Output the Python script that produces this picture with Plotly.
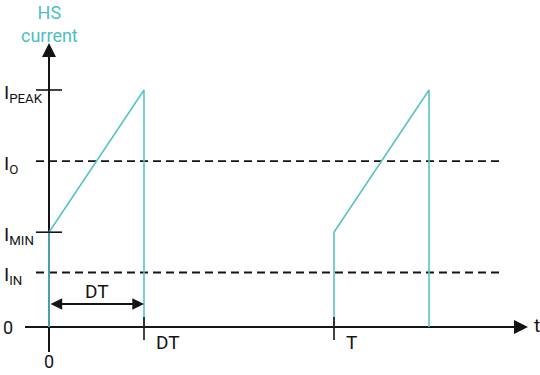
import plotly.graph_objects as go

# ---- data (normalised units: period T = 1, I_PEAK = 1) ----
T = 1.0
D = 1.0 / 3.0
period_starts = [0.0, 1.0]
I_PEAK = 1.0
I_O = 0.70
I_MIN = 0.40
I_IN = 0.23

level_values = [I_PEAK, I_O, I_MIN, I_IN]
level_labels = ["I<sub>PEAK</sub>", "I<sub>O</sub>", "I<sub>MIN</sub>", "I<sub>IN</sub>"]
dashed_levels = [I_O, I_IN]
ticked_levels = [I_PEAK, I_MIN]
time_ticks = [D * T, T]
time_tick_labels = ["DT", "T"]
axis_title = "HS<br>current"

CYAN = "#58c3ca"
TXT_CYAN = "#4dbec7"
BLACK = "#141414"
FONT = "Roboto"

# pixel scale helpers (plot area = whole figure)
W, H = 540, 375
x_px0, x_scale = 49, 285.0   # t=0 at px 49, 285 px per period
y_px0, y_scale = 327, 237.0  # i=0 at px 327, 237 px per I_PEAK
def dx(px):
    return (px - x_px0) / x_scale
def dy(py):
    return (y_px0 - py) / y_scale

# waveform
xs, ys = [], []
for s in period_starts:
    xs += [s, s, s + D * T, s + D * T, None]
    ys += [0, I_MIN, I_PEAK, 0, None]

fig = go.Figure()
fig.add_trace(go.Scatter(x=xs, y=ys, mode="lines",
                         line=dict(color=CYAN, width=1.6),
                         hoverinfo="skip", showlegend=False))

shapes = []
# axes (below the waveform)
shapes.append(dict(type="line", x0=0, x1=0, y0=dy(352), y1=dy(54),
                   line=dict(color=BLACK, width=2), layer="below"))
shapes.append(dict(type="line", x0=dx(25), x1=dx(516), y0=0, y1=0,
                   line=dict(color=BLACK, width=2), layer="below"))
# dashed reference levels
for v in dashed_levels:
    shapes.append(dict(type="line", x0=dx(36), x1=dx(503), y0=v, y1=v,
                       line=dict(color=BLACK, width=1.8, dash="8px,5px"), layer="below"))
# ticks on current axis
for v in ticked_levels:
    shapes.append(dict(type="line", x0=dx(36), x1=dx(62), y0=v, y1=v,
                       line=dict(color=BLACK, width=1.6), layer="above"))
# ticks on time axis
for t in time_ticks:
    shapes.append(dict(type="line", x0=t, x1=t, y0=dy(317), y1=dy(340),
                       line=dict(color=BLACK, width=1.6), layer="above"))

annotations = []
# arrow heads of axes
annotations.append(dict(x=0, y=dy(43), ax=0, ay=dy(70), xref="x", yref="y",
                        axref="x", ayref="y", text="", showarrow=True,
                        arrowhead=2, arrowsize=1.4, arrowwidth=2, arrowcolor=BLACK,
                        standoff=0))
annotations.append(dict(x=dx(528), y=0, ax=dx(500), ay=0, xref="x", yref="y",
                        axref="x", ayref="y", text="", showarrow=True,
                        arrowhead=2, arrowsize=1.4, arrowwidth=2, arrowcolor=BLACK,
                        standoff=0))
# DT double arrow
annotations.append(dict(x=D * T, y=dy(304), ax=0, ay=dy(304), xref="x", yref="y",
                        axref="x", ayref="y", text="", showarrow=True,
                        arrowhead=2, startarrowhead=2, arrowside="end+start",
                        arrowsize=1.3, startarrowsize=1.3, arrowwidth=1.8,
                        arrowcolor=BLACK, standoff=0, startstandoff=0))
annotations.append(dict(x=D * T / 2, y=dy(291), xref="x", yref="y", text="DT",
                        showarrow=False, font=dict(family=FONT, size=19, color=BLACK)))

# level labels
for v, lab in zip(level_values, level_labels):
    annotations.append(dict(x=dx(2), y=v, xref="x", yref="y", text=lab,
                            xanchor="left", yanchor="middle", yshift=-3,
                            showarrow=False, font=dict(family=FONT, size=19, color=BLACK)))
annotations.append(dict(x=dx(8), y=0, xref="x", yref="y", text="0",
                        showarrow=False, font=dict(family=FONT, size=18, color=BLACK)))
annotations.append(dict(x=0, y=dy(H), xref="x", yref="y", text="0",
                        yanchor="bottom", yshift=1, showarrow=False,
                        font=dict(family=FONT, size=18, color=BLACK)))
# time tick labels
for t, lab in zip(time_ticks, time_tick_labels):
    annotations.append(dict(x=t, y=dy(342), xref="x", yref="y", text=lab,
                            xanchor="left", xshift=10, showarrow=False,
                            font=dict(family=FONT, size=19, color=BLACK)))
annotations.append(dict(x=dx(537), y=dy(325), xref="x", yref="y", text="t",
                        showarrow=False, font=dict(family=FONT, size=19, color=BLACK)))
# y axis title
annotations.append(dict(x=0, y=dy(0), xref="x", yref="y", text=axis_title,
                        yanchor="top", showarrow=False,
                        font=dict(family=FONT, size=18, color=TXT_CYAN)))

fig.update_layout(
    width=W, height=H,
    margin=dict(l=0, r=0, t=0, b=0),
    paper_bgcolor="white", plot_bgcolor="white",
    xaxis=dict(range=[dx(0), dx(W)], visible=False, fixedrange=True),
    yaxis=dict(range=[dy(H), dy(0)], visible=False, fixedrange=True),
    shapes=shapes, annotations=annotations, showlegend=False,
)

fig.write_html("out.html")
